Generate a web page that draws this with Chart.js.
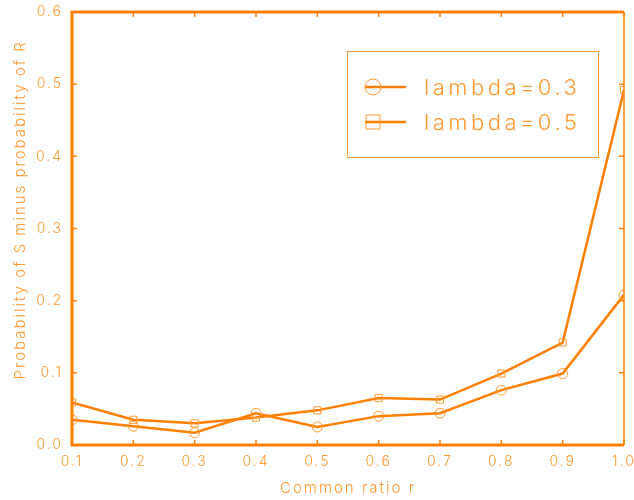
<!DOCTYPE html>
<html>
<head>
<meta charset="utf-8">
<script src="https://cdn.jsdelivr.net/npm/chart.js@4.4.1/dist/chart.umd.min.js"></script>
<style>
  html, body { margin: 0; padding: 0; background: #ffffff; }
  #wrap { width: 634px; height: 500px; }
</style>
</head>
<body>
<div id="wrap"><canvas id="probChart" width="634" height="500"></canvas></div>
<script>
// values
const ratios = [0.1, 0.2, 0.3, 0.4, 0.5, 0.6, 0.7, 0.8, 0.9, 1.0];
const lambda03 = [0.035, 0.026, 0.017, 0.044, 0.025, 0.040, 0.044, 0.076, 0.099, 0.208];
const lambda05 = [0.059, 0.035, 0.030, 0.038, 0.048, 0.065, 0.063, 0.099, 0.142, 0.492];
const seriesNames = ['lambda=0.3', 'lambda=0.5'];
const yTicks = [0.0, 0.1, 0.2, 0.3, 0.4, 0.5, 0.6];

const lineColor = '#ff8000';
const textColor = '#ff9a33';
const fontFamily = "Inter, 'DejaVu Sans', sans-serif";

// wide spacing like the original plotting font
const spacing = {
    id: 'spacing',
    beforeUpdate(chart) { chart.ctx.letterSpacing = '2px'; },
    beforeDraw(chart) { chart.ctx.letterSpacing = '2px'; }
};

// frame with inward ticks on all four sides
const framePlugin = {
    id: 'frame',
    afterDatasetsDraw(chart) {
        const ctx = chart.ctx;
        const a = chart.chartArea;
        const xs = chart.scales.x;
        const ys = chart.scales.y;
        ctx.save();
        ctx.strokeStyle = lineColor;
        ctx.lineWidth = 1.5;
        ratios.forEach((r) => {
            const px = xs.getPixelForValue(r);
            ctx.beginPath();
            ctx.moveTo(px, a.bottom); ctx.lineTo(px, a.bottom - 5);
            ctx.moveTo(px, a.top); ctx.lineTo(px, a.top + 5);
            ctx.stroke();
        });
        yTicks.forEach((v) => {
            const py = ys.getPixelForValue(v);
            ctx.beginPath();
            ctx.moveTo(a.left, py); ctx.lineTo(a.left + 5, py);
            ctx.moveTo(a.right, py); ctx.lineTo(a.right - 5, py);
            ctx.stroke();
        });
        // right side is thin
        ctx.beginPath();
        ctx.moveTo(a.right, a.top); ctx.lineTo(a.right, a.bottom);
        ctx.stroke();
        // left, top, bottom thick
        ctx.lineWidth = 3;
        ctx.beginPath();
        ctx.moveTo(a.right, a.top);
        ctx.lineTo(a.left, a.top);
        ctx.lineTo(a.left, a.bottom);
        ctx.lineTo(a.right, a.bottom);
        ctx.stroke();
        ctx.restore();
    }
};

// boxed legend with line + marker samples
const boxLegend = {
    id: 'boxLegend',
    afterDraw(chart) {
        const ctx = chart.ctx;
        const a = chart.chartArea;
        const bx = a.right - 277, by = a.top + 39, bw = 251, bh = 106;
        ctx.save();
        ctx.strokeStyle = textColor;
        ctx.lineWidth = 1;
        ctx.strokeRect(bx + 0.5, by + 0.5, bw, bh);
        chart.data.datasets.forEach((ds, i) => {
            const cy = by + 36 + i * 35;
            ctx.strokeStyle = lineColor;
            ctx.lineWidth = 2.5;
            ctx.beginPath();
            ctx.moveTo(bx + 18, cy); ctx.lineTo(bx + 59, cy);
            ctx.stroke();
            ctx.strokeStyle = textColor;
            ctx.lineWidth = 1;
            ctx.beginPath();
            if (ds.pointStyle === 'circle') {
                ctx.arc(bx + 26, cy, 8, 0, Math.PI * 2);
            } else {
                ctx.rect(bx + 19, cy - 7, 14, 14);
            }
            ctx.stroke();
            ctx.fillStyle = textColor;
            ctx.font = '300 22px ' + fontFamily;
            ctx.letterSpacing = '3.5px';
            ctx.textBaseline = 'middle';
            ctx.fillText(ds.label, bx + 77, cy + 1);
        });
        ctx.restore();
    }
};

const ctx = document.getElementById('probChart').getContext('2d');

const data = {
    datasets: [
        {
            label: seriesNames[0],
            data: ratios.map((r, i) => ({ x: r, y: lambda03[i] })),
            borderColor: lineColor,
            borderWidth: 2.5,
            pointStyle: 'circle',
            pointRadius: 5,
            pointBorderWidth: 1,
            pointBorderColor: textColor,
            pointBackgroundColor: 'rgba(0,0,0,0)',
            fill: false,
            tension: 0
        }, {
            label: seriesNames[1],
            data: ratios.map((r, i) => ({ x: r, y: lambda05[i] })),
            borderColor: lineColor,
            borderWidth: 2.5,
            pointStyle: 'rect',
            pointRadius: 5,
            pointBorderWidth: 1,
            pointBorderColor: textColor,
            pointBackgroundColor: 'rgba(0,0,0,0)',
            fill: false,
            tension: 0
        }
    ]
};

const options = {
    responsive: false,
    animation: false,
    layout: { padding: { top: 12, right: 10, left: 0, bottom: 0 } },
    plugins: {
        legend: { display: false },
        tooltip: { enabled: false }
    },
    scales: {
        x: {
            type: 'linear',
            min: 0.1,
            max: 1.0,
            afterFit: (scale) => {
                scale.height = 55;
                scale.paddingLeft = 0;
                scale.paddingRight = 0;
            },
            afterBuildTicks: (scale) => { scale.ticks = ratios.map((v) => ({ value: v })); },
            grid: { display: false, drawTicks: false },
            border: { display: false },
            ticks: {
                color: textColor,
                padding: 8,
                maxRotation: 0,
                autoSkip: false,
                font: { size: 14, family: fontFamily, weight: 300 },
                callback: (value) => value.toFixed(1)
            },
            title: {
                display: true,
                text: 'Common ratio r',
                color: textColor,
                padding: { top: 0, bottom: 3 },
                font: { size: 15, family: fontFamily, weight: 300 }
            }
        },
        y: {
            min: 0,
            max: 0.6,
            afterFit: (scale) => {
                scale.width = 72;
                scale.paddingTop = 0;
                scale.paddingBottom = 0;
            },
            afterBuildTicks: (scale) => { scale.ticks = yTicks.map((v) => ({ value: v })); },
            grid: { display: false, drawTicks: false },
            border: { display: false },
            ticks: {
                color: textColor,
                padding: 9,
                font: { size: 14, family: fontFamily, weight: 300 },
                callback: (value) => value.toFixed(1)
            },
            title: {
                display: true,
                text: '      Probability of S minus probability of R',
                color: textColor,
                padding: { top: 11, bottom: 0 },
                font: { size: 15, family: fontFamily, weight: 300 }
            }
        }
    }
};

new Chart(ctx, {
    type: 'line',
    data: data,
    options: options,
    plugins: [spacing, framePlugin, boxLegend]
});
</script>
</body>
</html>
